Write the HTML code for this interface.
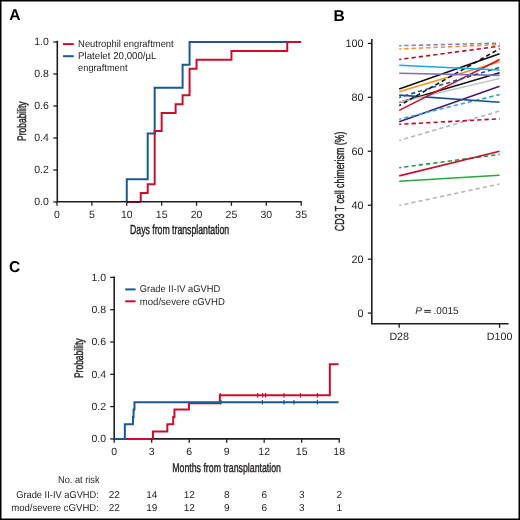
<!DOCTYPE html><html><head><meta charset="utf-8"><style>html,body{margin:0;padding:0;background:#fff;}svg{display:block;will-change:transform;}</style></head><body>
<svg width="520" height="520" viewBox="0 0 520 520" font-family='"Liberation Sans", sans-serif' fill="#231f20" text-rendering="geometricPrecision">
<rect width="520" height="520" fill="#fff"/>
<text x="9.2" y="20.4" font-size="15.6" font-weight="bold" fill="#000">A</text>
<text x="333.4" y="20.5" font-size="15.6" font-weight="bold" fill="#000">B</text>
<text x="9.0" y="272.0" font-size="15.6" font-weight="bold" fill="#000">C</text>
<path d="M126.77,202.00V179.14H147.70V133.43H154.68V87.71H182.59V64.86H189.57V42.00H287.25" fill="none" stroke="#175a96" stroke-width="2"/>
<path d="M140.73,202.00V193.11H147.70V184.22H154.68V130.89H161.66V113.11H175.61V104.22H182.59V95.33H189.57V68.67H196.54V59.78H231.43V50.89H287.25V42.00H301.20" fill="none" stroke="#c8102e" stroke-width="2"/>
<path d="M126.77,202.0H140.73" stroke="#c8102e" stroke-width="2"/>
<path d="M57.3,40.8V201.7H301.8" fill="none" stroke="#231f20" stroke-width="1.6"/>
<path d="M53.3,202.00H57.3" stroke="#231f20" stroke-width="1.3"/>
<text x="48.8" y="205.40" font-size="10.5" text-anchor="end" >0.0</text>
<path d="M53.3,170.00H57.3" stroke="#231f20" stroke-width="1.3"/>
<text x="48.8" y="173.40" font-size="10.5" text-anchor="end" >0.2</text>
<path d="M53.3,138.00H57.3" stroke="#231f20" stroke-width="1.3"/>
<text x="48.8" y="141.40" font-size="10.5" text-anchor="end" >0.4</text>
<path d="M53.3,106.00H57.3" stroke="#231f20" stroke-width="1.3"/>
<text x="48.8" y="109.40" font-size="10.5" text-anchor="end" >0.6</text>
<path d="M53.3,74.00H57.3" stroke="#231f20" stroke-width="1.3"/>
<text x="48.8" y="77.40" font-size="10.5" text-anchor="end" >0.8</text>
<path d="M53.3,42.00H57.3" stroke="#231f20" stroke-width="1.3"/>
<text x="48.8" y="45.40" font-size="10.5" text-anchor="end" >1.0</text>
<path d="M57.00,202.0V205.8" stroke="#231f20" stroke-width="1.3"/>
<text x="57.00" y="217.8" font-size="10.5" text-anchor="middle" >0</text>
<path d="M91.89,202.0V205.8" stroke="#231f20" stroke-width="1.3"/>
<text x="91.89" y="217.8" font-size="10.5" text-anchor="middle" >5</text>
<path d="M126.77,202.0V205.8" stroke="#231f20" stroke-width="1.3"/>
<text x="126.77" y="217.8" font-size="10.5" text-anchor="middle" >10</text>
<path d="M161.66,202.0V205.8" stroke="#231f20" stroke-width="1.3"/>
<text x="161.66" y="217.8" font-size="10.5" text-anchor="middle" >15</text>
<path d="M196.54,202.0V205.8" stroke="#231f20" stroke-width="1.3"/>
<text x="196.54" y="217.8" font-size="10.5" text-anchor="middle" >20</text>
<path d="M231.43,202.0V205.8" stroke="#231f20" stroke-width="1.3"/>
<text x="231.43" y="217.8" font-size="10.5" text-anchor="middle" >25</text>
<path d="M266.31,202.0V205.8" stroke="#231f20" stroke-width="1.3"/>
<text x="266.31" y="217.8" font-size="10.5" text-anchor="middle" >30</text>
<path d="M301.20,202.0V205.8" stroke="#231f20" stroke-width="1.3"/>
<text x="301.20" y="217.8" font-size="10.5" text-anchor="middle" >35</text>
<path d="M63,44.1H73.8" stroke="#c8102e" stroke-width="2"/>
<path d="M63,56.2H73.8" stroke="#175a96" stroke-width="2"/>
<text x="78.1" y="47.2" font-size="9.9" text-anchor="start" textLength="95.6" lengthAdjust="spacingAndGlyphs" >Neutrophil engraftment</text>
<text x="78.1" y="59.1" font-size="9.9" text-anchor="start" textLength="78.4" lengthAdjust="spacingAndGlyphs" >Platelet 20,000/µL</text>
<text x="78.1" y="70.8" font-size="9.9" text-anchor="start" textLength="49.4" lengthAdjust="spacingAndGlyphs" >engraftment</text>
<text x="130.0" y="234.2" font-size="13.2" text-anchor="start" textLength="99.2" lengthAdjust="spacingAndGlyphs" stroke="#231f20" stroke-width="0.45">Days from transplantation</text>
<text transform="translate(26.4,141.0) rotate(-90)" font-size="12.4" textLength="39.6" lengthAdjust="spacingAndGlyphs" stroke="#231f20" stroke-width="0.4">Probability</text>
<line x1="399.2" y1="205.5" x2="499.6" y2="184.0" stroke="#b8b8b8" stroke-width="1.6" stroke-dasharray="4.3 3.0" stroke-dashoffset="2.2"/>
<line x1="399.2" y1="140.5" x2="499.6" y2="111.0" stroke="#b8b8b8" stroke-width="1.6" stroke-dasharray="4.3 3.0" stroke-dashoffset="2.2"/>
<line x1="399.2" y1="181.2" x2="499.6" y2="175.2" stroke="#2aa83d" stroke-width="1.6"/>
<line x1="399.2" y1="167.7" x2="499.6" y2="154.4" stroke="#1e9e3a" stroke-width="1.6" stroke-dasharray="4.3 3.0" stroke-dashoffset="2.2"/>
<line x1="399.2" y1="175.9" x2="499.6" y2="151.2" stroke="#c8102e" stroke-width="1.6"/>
<line x1="399.2" y1="124.3" x2="499.6" y2="118.8" stroke="#b3102e" stroke-width="1.6" stroke-dasharray="4.3 3.0" stroke-dashoffset="2.2"/>
<line x1="399.2" y1="121.7" x2="499.6" y2="86.2" stroke="#4e1a70" stroke-width="1.6"/>
<line x1="399.2" y1="119.2" x2="499.6" y2="94.6" stroke="#29abe2" stroke-width="1.6" stroke-dasharray="4.3 3.0" stroke-dashoffset="2.2"/>
<line x1="399.2" y1="95.1" x2="499.6" y2="102.3" stroke="#1d4f8c" stroke-width="1.6"/>
<line x1="399.2" y1="102.4" x2="499.6" y2="72.7" stroke="#111111" stroke-width="1.6"/>
<line x1="399.2" y1="102.3" x2="499.6" y2="78.5" stroke="#c4c4c4" stroke-width="1.6"/>
<line x1="399.2" y1="49.0" x2="499.6" y2="44.6" stroke="#f7941d" stroke-width="1.6" stroke-dasharray="4.3 3.0" stroke-dashoffset="2.2"/>
<line x1="399.2" y1="45.7" x2="499.6" y2="43.1" stroke="#7f7fd0" stroke-width="1.6" stroke-dasharray="4.3 3.0" stroke-dashoffset="2.2"/>
<line x1="399.2" y1="59.5" x2="499.6" y2="46.2" stroke="#b3102e" stroke-width="1.6" stroke-dasharray="4.3 3.0" stroke-dashoffset="2.2"/>
<line x1="399.2" y1="89.1" x2="499.6" y2="53.7" stroke="#111111" stroke-width="1.6"/>
<line x1="399.2" y1="91.8" x2="499.6" y2="61.8" stroke="#f7941d" stroke-width="1.6"/>
<line x1="399.2" y1="110.4" x2="499.6" y2="59.5" stroke="#d0112b" stroke-width="1.6"/>
<line x1="399.2" y1="105.6" x2="499.6" y2="48.7" stroke="#111111" stroke-width="1.6" stroke-dasharray="4.3 3.0" stroke-dashoffset="2.2"/>
<line x1="399.2" y1="73.2" x2="499.6" y2="75.4" stroke="#7d6fc4" stroke-width="1.6"/>
<line x1="399.2" y1="97.4" x2="499.6" y2="67.4" stroke="#1b5393" stroke-width="1.6" stroke-dasharray="4.3 3.0" stroke-dashoffset="2.2"/>
<line x1="399.2" y1="65.3" x2="499.6" y2="70.0" stroke="#1ca7e2" stroke-width="1.6"/>
<path d="M371.8,39.10V323.8H508.6" fill="none" stroke="#231f20" stroke-width="1.6"/>
<path d="M367.8,313.10H371.8" stroke="#231f20" stroke-width="1.3"/>
<text x="363.6" y="316.60" font-size="10.8" text-anchor="end" >0</text>
<path d="M367.8,259.16H371.8" stroke="#231f20" stroke-width="1.3"/>
<text x="363.6" y="262.66" font-size="10.8" text-anchor="end" >20</text>
<path d="M367.8,205.22H371.8" stroke="#231f20" stroke-width="1.3"/>
<text x="363.6" y="208.72" font-size="10.8" text-anchor="end" >40</text>
<path d="M367.8,151.28H371.8" stroke="#231f20" stroke-width="1.3"/>
<text x="363.6" y="154.78" font-size="10.8" text-anchor="end" >60</text>
<path d="M367.8,97.34H371.8" stroke="#231f20" stroke-width="1.3"/>
<text x="363.6" y="100.84" font-size="10.8" text-anchor="end" >80</text>
<path d="M367.8,43.40H371.8" stroke="#231f20" stroke-width="1.3"/>
<text x="363.6" y="46.90" font-size="10.8" text-anchor="end" >100</text>
<path d="M399.2,323.8V327.8" stroke="#231f20" stroke-width="1.3"/>
<path d="M499.6,323.8V327.8" stroke="#231f20" stroke-width="1.3"/>
<text x="399.2" y="340.3" font-size="10.7" text-anchor="middle" >D28</text>
<text x="499.6" y="340.3" font-size="10.7" text-anchor="middle" >D100</text>
<text x="415.2" y="314" font-size="10" font-style="italic">P</text>
<rect x="424.2" y="309.9" width="6.7" height="0.95"/><rect x="424.2" y="311.75" width="6.7" height="0.95"/>
<text x="433.6" y="314" font-size="10">.0015</text>
<text transform="translate(344,231.2) rotate(-90)" font-size="13" textLength="99.6" lengthAdjust="spacingAndGlyphs" stroke="#231f20" stroke-width="0.4">CD3 T cell chimerism (%)</text>
<path d="M114.2,276.60V438.9H339.80" fill="none" stroke="#231f20" stroke-width="1.6"/>
<path d="M124.83,438.9H152.95V431.56H167.32V424.22H173.20V416.88H174.45V409.54H188.95V403.20H219.82V395.29H329.82V364.13H338.57" fill="none" stroke="#c8102e" stroke-width="2"/>
<path d="M114.2,438.9H124.83V424.22H132.95V416.88H133.57V409.54H134.45V402.20H338.57" fill="none" stroke="#175a96" stroke-width="2"/>
<path d="M220.3,392.99v4.6" stroke="#c8102e" stroke-width="1.2"/>
<path d="M257.7,392.99v4.6" stroke="#c8102e" stroke-width="1.2"/>
<path d="M262.6,392.99v4.6" stroke="#c8102e" stroke-width="1.2"/>
<path d="M265.6,392.99v4.6" stroke="#c8102e" stroke-width="1.2"/>
<path d="M284,392.99v4.6" stroke="#c8102e" stroke-width="1.2"/>
<path d="M300.5,392.99v4.6" stroke="#c8102e" stroke-width="1.2"/>
<path d="M317.4,392.99v4.6" stroke="#c8102e" stroke-width="1.2"/>
<path d="M221.0,399.90v4.6" stroke="#175a96" stroke-width="1.2"/>
<path d="M262.4,399.90v4.6" stroke="#175a96" stroke-width="1.2"/>
<path d="M284,399.90v4.6" stroke="#175a96" stroke-width="1.2"/>
<path d="M293.9,399.90v4.6" stroke="#175a96" stroke-width="1.2"/>
<path d="M317.4,399.90v4.6" stroke="#175a96" stroke-width="1.2"/>
<path d="M110.2,438.90H114.2" stroke="#231f20" stroke-width="1.3"/>
<text x="106" y="442.30" font-size="10.5" text-anchor="end" >0.0</text>
<path d="M110.2,406.60H114.2" stroke="#231f20" stroke-width="1.3"/>
<text x="106" y="410.00" font-size="10.5" text-anchor="end" >0.2</text>
<path d="M110.2,374.30H114.2" stroke="#231f20" stroke-width="1.3"/>
<text x="106" y="377.70" font-size="10.5" text-anchor="end" >0.4</text>
<path d="M110.2,342.00H114.2" stroke="#231f20" stroke-width="1.3"/>
<text x="106" y="345.40" font-size="10.5" text-anchor="end" >0.6</text>
<path d="M110.2,309.70H114.2" stroke="#231f20" stroke-width="1.3"/>
<text x="106" y="313.10" font-size="10.5" text-anchor="end" >0.8</text>
<path d="M110.2,277.40H114.2" stroke="#231f20" stroke-width="1.3"/>
<text x="106" y="280.80" font-size="10.5" text-anchor="end" >1.0</text>
<path d="M114.20,438.9V442.70" stroke="#231f20" stroke-width="1.3"/>
<text x="114.20" y="455.1" font-size="10.5" text-anchor="middle" >0</text>
<path d="M151.70,438.9V442.70" stroke="#231f20" stroke-width="1.3"/>
<text x="151.70" y="455.1" font-size="10.5" text-anchor="middle" >3</text>
<path d="M189.20,438.9V442.70" stroke="#231f20" stroke-width="1.3"/>
<text x="189.20" y="455.1" font-size="10.5" text-anchor="middle" >6</text>
<path d="M226.70,438.9V442.70" stroke="#231f20" stroke-width="1.3"/>
<text x="226.70" y="455.1" font-size="10.5" text-anchor="middle" >9</text>
<path d="M264.20,438.9V442.70" stroke="#231f20" stroke-width="1.3"/>
<text x="264.20" y="455.1" font-size="10.5" text-anchor="middle" >12</text>
<path d="M301.70,438.9V442.70" stroke="#231f20" stroke-width="1.3"/>
<text x="301.70" y="455.1" font-size="10.5" text-anchor="middle" >15</text>
<path d="M339.20,438.9V442.70" stroke="#231f20" stroke-width="1.3"/>
<text x="339.20" y="455.1" font-size="10.5" text-anchor="middle" >18</text>
<path d="M125.2,289.4H135.6" stroke="#175a96" stroke-width="2"/>
<path d="M125.2,301.3H135.6" stroke="#c8102e" stroke-width="2"/>
<text x="139.8" y="292.3" font-size="9.9" text-anchor="start" textLength="80.4" lengthAdjust="spacingAndGlyphs" >Grade II-IV aGVHD</text>
<text x="139.8" y="304.6" font-size="9.9" text-anchor="start" textLength="85" lengthAdjust="spacingAndGlyphs" >mod/severe cGVHD</text>
<text x="172.2" y="471.6" font-size="12.6" text-anchor="start" textLength="108.8" lengthAdjust="spacingAndGlyphs" stroke="#231f20" stroke-width="0.4">Months from transplantation</text>
<text transform="translate(83.1,378.1) rotate(-90)" font-size="12.4" textLength="39.7" lengthAdjust="spacingAndGlyphs" stroke="#231f20" stroke-width="0.4">Probability</text>
<text x="58.0" y="482.5" font-size="10" text-anchor="start" textLength="41.5" lengthAdjust="spacingAndGlyphs" >No. at risk</text>
<text x="16.2" y="498.4" font-size="10" text-anchor="start" textLength="82.7" lengthAdjust="spacingAndGlyphs" >Grade II-IV aGVHD:</text>
<text x="11.25" y="510.5" font-size="10" text-anchor="start" textLength="87.65" lengthAdjust="spacingAndGlyphs" >mod/severe cGVHD:</text>
<text x="114.20" y="498.4" font-size="10" text-anchor="middle" >22</text>
<text x="114.20" y="510.5" font-size="10" text-anchor="middle" >22</text>
<text x="151.70" y="498.4" font-size="10" text-anchor="middle" >14</text>
<text x="151.70" y="510.5" font-size="10" text-anchor="middle" >19</text>
<text x="189.20" y="498.4" font-size="10" text-anchor="middle" >12</text>
<text x="189.20" y="510.5" font-size="10" text-anchor="middle" >12</text>
<text x="226.70" y="498.4" font-size="10" text-anchor="middle" >8</text>
<text x="226.70" y="510.5" font-size="10" text-anchor="middle" >9</text>
<text x="264.20" y="498.4" font-size="10" text-anchor="middle" >6</text>
<text x="264.20" y="510.5" font-size="10" text-anchor="middle" >6</text>
<text x="301.70" y="498.4" font-size="10" text-anchor="middle" >3</text>
<text x="301.70" y="510.5" font-size="10" text-anchor="middle" >3</text>
<text x="339.20" y="498.4" font-size="10" text-anchor="middle" >2</text>
<text x="339.20" y="510.5" font-size="10" text-anchor="middle" >1</text>
<rect x="0" y="0" width="520" height="520" fill="none" stroke="#000" stroke-width="3"/>
</svg></body></html>
